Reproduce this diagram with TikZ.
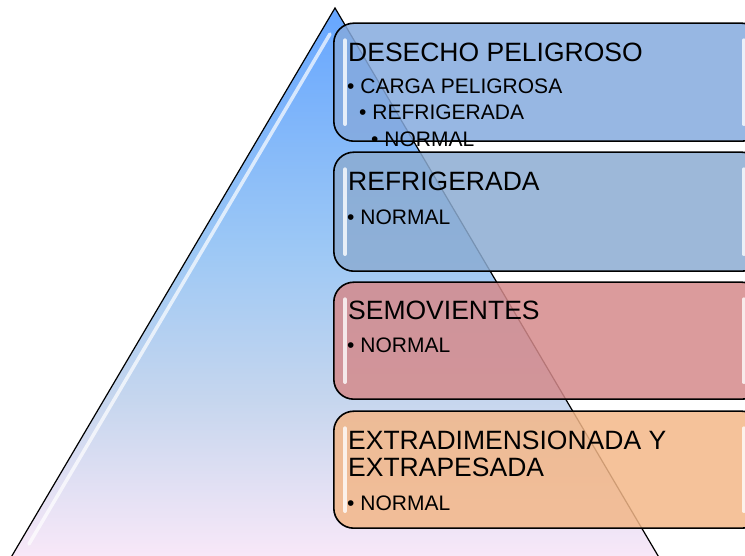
\documentclass[tikz,border=0pt]{standalone}
\usepackage{fontspec}
\setmainfont{Liberation Sans}
\definecolor{pyrbot}{HTML}{F8E8F8}
\definecolor{pyrlow}{HTML}{C6D6EE}
\definecolor{pyrmid}{HTML}{9DC8F5}
\definecolor{pyrtop}{HTML}{66A6FF}
\definecolor{cA}{HTML}{85AADE}
\definecolor{cB}{HTML}{8CACD2}
\definecolor{cC}{HTML}{D58A8B}
\definecolor{cD}{HTML}{F3B788}
\pgfdeclareverticalshading{pyr}{100bp}{color(0bp)=(pyrbot); color(26.3bp)=(pyrbot); color(40.2bp)=(pyrlow); color(53.5bp)=(pyrmid); color(75bp)=(pyrtop); color(100bp)=(pyrtop)}
\tikzset{
  box/.style={draw=black, line width=1.6pt, rounded corners=20pt, fill opacity=0.85, anchor=south west, inner sep=0pt},
  hl/.style={draw=white, line width=4pt, line cap=round, opacity=0.8},
  ttl/.style={anchor=base west, inner sep=0pt, font=\fontsize{26.5}{27}\selectfont},
  itm/.style={anchor=base west, inner sep=0pt, font=\fontsize{21}{22}\selectfont},
}
\begin{document}
\begin{tikzpicture}[x=1pt,y=1pt]
\useasboundingbox (0,0) rectangle (745,556);
\clip (0,0) rectangle (745,556);
% pyramid
\coordinate (apex) at (335,548);
\coordinate (bl) at (3,-15);
\coordinate (br) at (667,-15);
\shade[shading=pyr] (apex) -- (bl) -- (br) -- cycle;
\draw[line width=1.2pt] (bl) -- (apex) -- (br);
\coordinate (h1) at (330,522);
\coordinate (h2) at (29,12);
\draw[draw=white, line width=3.5pt, opacity=0.7, line cap=round] (h1) -- (h2);
% boxes
\node[box, fill=cA, minimum width=428pt, minimum height=118pt] (b1) at (333,414) {};
\node[box, fill=cB, minimum width=428pt, minimum height=119pt] (b2) at (333,284) {};
\node[box, fill=cC, minimum width=428pt, minimum height=117pt] (b3) at (333,156) {};
\node[box, fill=cD, minimum width=428pt, minimum height=117pt] (b4) at (333,27) {};
% highlights
\foreach \b in {b1,b2,b3,b4}{
  \draw[hl] ([xshift=12pt,yshift=-18pt]\b.north west) -- ([xshift=12pt,yshift=18pt]\b.south west);
  \draw[hl] ([xshift=-19pt,yshift=-18pt]\b.north east) -- ([xshift=-19pt,yshift=18pt]\b.south east);
}
% texts
\node[ttl] (t1) at (348,494) {DESECHO PELIGROSO};
\node[itm] (t1a) at (347,462) {• CARGA PELIGROSA};
\node[itm] (t1b) at (359,436) {• REFRIGERADA};
\node[itm] (t1c) at (371,409) {• NORMAL};
\node[ttl] (t2) at (348,365) {REFRIGERADA};
\node[itm] (t2a) at (347,331) {• NORMAL};
\node[ttl] (t3) at (348,236) {SEMOVIENTES};
\node[itm] (t3a) at (347,203) {• NORMAL};
\node[ttl] (t4) at (348,106) {EXTRADIMENSIONADA Y};
\node[ttl] (t4b) at (348,79) {EXTRAPESADA};
\node[itm] (t4a) at (347,45) {• NORMAL};
\end{tikzpicture}
\end{document}
